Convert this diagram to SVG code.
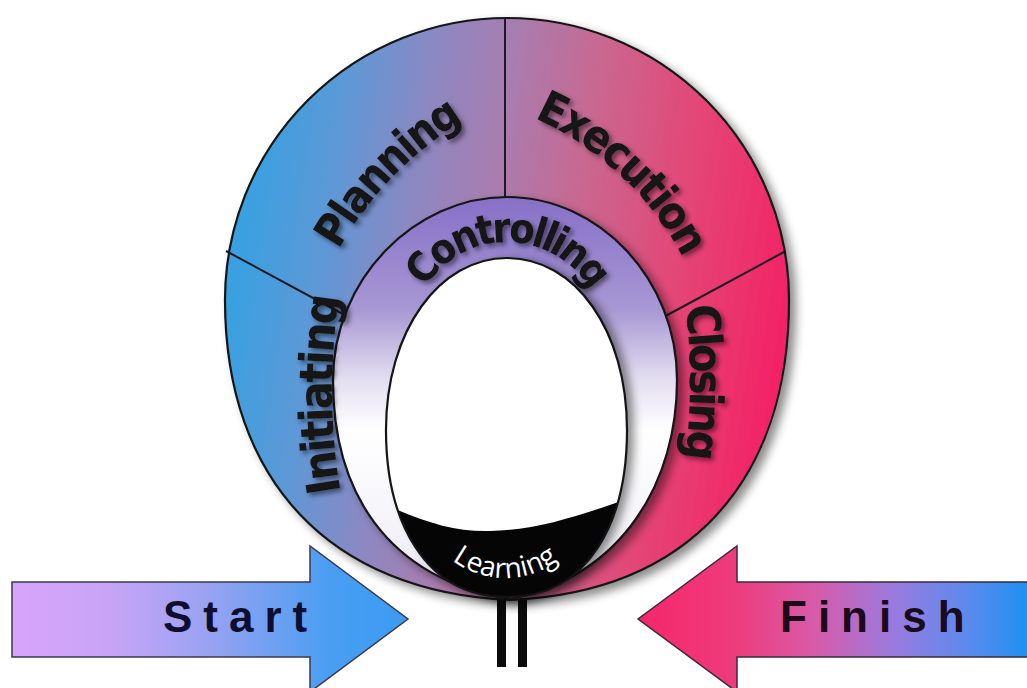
<svg xmlns="http://www.w3.org/2000/svg" width="1027" height="688" viewBox="0 0 1027 688">
<style>
.edge{stroke:#141414;stroke-width:2.2;}
.lbl{font-family:'DejaVu Sans Condensed','DejaVu Sans',sans-serif;font-stretch:condensed;font-weight:bold;fill:#121212;}
.arrowtxt{font-family:'Liberation Sans',Arial,sans-serif;font-weight:bold;font-size:44px;letter-spacing:11px;}
.div{stroke:#1a1a22;stroke-width:2;fill:none;}
</style>
<defs>
<linearGradient id="gOuter" gradientUnits="userSpaceOnUse" x1="240" y1="250" x2="780" y2="330">
<stop offset="0" stop-color="#3aa0e0"/>
<stop offset="0.15" stop-color="#5e98d6"/>
<stop offset="0.3" stop-color="#8c88c2"/>
<stop offset="0.45" stop-color="#aa7cae"/>
<stop offset="0.6" stop-color="#c86890"/>
<stop offset="0.8" stop-color="#e44676"/>
<stop offset="1" stop-color="#f22466"/>
</linearGradient>
<linearGradient id="gMid" gradientUnits="userSpaceOnUse" x1="0" y1="197" x2="0" y2="599">
<stop offset="0" stop-color="#8670c8"/>
<stop offset="0.28" stop-color="#a898d4"/>
<stop offset="0.45" stop-color="#e2ddf0"/>
<stop offset="0.58" stop-color="#ffffff"/>
<stop offset="0.88" stop-color="#f2f0f7"/>
<stop offset="1" stop-color="#d6d0e6"/>
</linearGradient>
<linearGradient id="gStart" gradientUnits="userSpaceOnUse" x1="12" y1="0" x2="408" y2="0">
<stop offset="0" stop-color="#d8a4fa"/>
<stop offset="0.25" stop-color="#c8a4f6"/>
<stop offset="0.5" stop-color="#98a2f2"/>
<stop offset="0.8" stop-color="#4a9ef2"/>
<stop offset="1" stop-color="#3a9cf2"/>
</linearGradient>
<linearGradient id="gFinish" gradientUnits="userSpaceOnUse" x1="638" y1="0" x2="1027" y2="0">
<stop offset="0" stop-color="#f6266a"/>
<stop offset="0.25" stop-color="#ee3c7c"/>
<stop offset="0.45" stop-color="#d85aa8"/>
<stop offset="0.65" stop-color="#9c7ade"/>
<stop offset="0.85" stop-color="#5a8aee"/>
<stop offset="1" stop-color="#1e92f2"/>
</linearGradient>
<filter id="fShadow" x="-10%" y="-10%" width="125%" height="125%">
<feDropShadow dx="6" dy="5" stdDeviation="5" flood-color="#000" flood-opacity="0.45"/>
</filter>
<filter id="fEgg" x="-20%" y="-20%" width="140%" height="140%">
<feDropShadow dx="7" dy="2" stdDeviation="5" flood-color="#000" flood-opacity="0.45"/>
</filter>
<filter id="fText" x="-20%" y="-20%" width="140%" height="140%">
<feDropShadow dx="3" dy="3" stdDeviation="2.5" flood-color="#000" flood-opacity="0.5"/>
</filter>
<clipPath id="cEgg">
<path d="M507 258 C575 258 627 330 627 430 C627 520 590 597 507 597 C424 597 386 520 386 430 C386 330 440 258 507 258 Z"/>
</clipPath>
<path id="pPlanning" d="M297.4 363.8 A358 358 0 0 1 587.8 73.4"/>
<path id="pExecution" d="M408 91 A310 310 0 0 1 718 401"/>
<path id="pControlling" d="M411 338 A96 96 0 0 1 603 338"/>
<path id="pInitiating" d="M352.4 545.3 A600 600 0 0 1 352.4 234.7"/>
<path id="pClosing" d="M669.6 224.7 A600 600 0 0 1 669.6 535.3"/>
<path id="pLearning" d="M428.8 534 A88 88 0 0 0 581.2 534"/>
</defs>

<rect width="1027" height="688" fill="#ffffff"/>

<g id="stem">
<rect x="497" y="585" width="9" height="82" fill="#0a0a0a"/>
<rect x="518" y="585" width="9" height="82" fill="#0a0a0a"/>
</g>

<g id="process-ring">
<path class="edge" filter="url(#fShadow)" fill="url(#gOuter)" d="M225 300 A282 282 0 0 1 789 300 C789 480 690 592 510 600 C330 592 225 480 225 300 Z"/>
</g>

<g id="connectors">
<line class="div" x1="505" y1="18" x2="505" y2="205"/>
<line class="div" x1="226" y1="251" x2="352" y2="319"/>
<line class="div" x1="784" y1="252" x2="660" y2="319"/>
</g>

<g id="controlling">
<path class="edge" filter="url(#fShadow)" fill="url(#gMid)" d="M507 197 C600 197 677 280 677 380 C677 480 625 575 510 599 C385 578 333 490 333 380 C333 280 414 197 507 197 Z"/>
<text class="lbl" font-size="41" letter-spacing="-3.2" filter="url(#fText)"><textPath href="#pControlling" startOffset="150.8" text-anchor="middle">Controlling</textPath></text>
</g>

<g id="learning">
<path fill="#ffffff" filter="url(#fEgg)" d="M507 258 C575 258 627 330 627 430 C627 520 590 597 507 597 C424 597 386 520 386 430 C386 330 440 258 507 258 Z"/>
<path fill="#050505" clip-path="url(#cEgg)" d="M370 498 C420 520 450 532 490 531 C540 530 580 515 640 495 L640 610 L370 610 Z"/>
<path class="edge" fill="none" d="M507 258 C575 258 627 330 627 430 C627 520 590 597 507 597 C424 597 386 520 386 430 C386 330 440 258 507 258 Z"/>
<text font-family="'Open Sans','DejaVu Sans',sans-serif" font-size="28" fill="#ffffff"><textPath href="#pLearning" startOffset="92.2" text-anchor="middle">Learning</textPath></text>
</g>

<g id="planning">
<text class="lbl" font-size="44" letter-spacing="-2" filter="url(#fText)"><textPath href="#pPlanning" startOffset="211.8" text-anchor="middle">Planning</textPath></text>
</g>
<g id="execution">
<text class="lbl" font-size="45" letter-spacing="-2" filter="url(#fText)"><textPath href="#pExecution" startOffset="233" text-anchor="middle">Execution</textPath></text>
</g>
<g id="initiating">
<text class="lbl" font-size="46" letter-spacing="-2" filter="url(#fText)"><textPath href="#pInitiating" startOffset="152.1" text-anchor="middle">Initiating</textPath></text>
</g>
<g id="closing">
<text class="lbl" font-size="46" letter-spacing="-3" filter="url(#fText)"><textPath href="#pClosing" startOffset="158" text-anchor="middle">Closing</textPath></text>
</g>

<g id="start">
<polygon points="12,582 310,582 310,546 408,619 310,692 310,657 12,657" fill="url(#gStart)" stroke="#3a3a50" stroke-width="1.5"/>
<text class="arrowtxt" x="163" y="632" fill="#0e0e30">Start</text>
</g>
<g id="finish">
<polygon points="1032,582 737,582 737,546 638,619 737,692 737,657 1032,657" fill="url(#gFinish)" stroke="#3a2a3a" stroke-width="1.5"/>
<text class="arrowtxt" x="780" y="632" fill="#1a0a1a">Finish</text>
</g>
</svg>
